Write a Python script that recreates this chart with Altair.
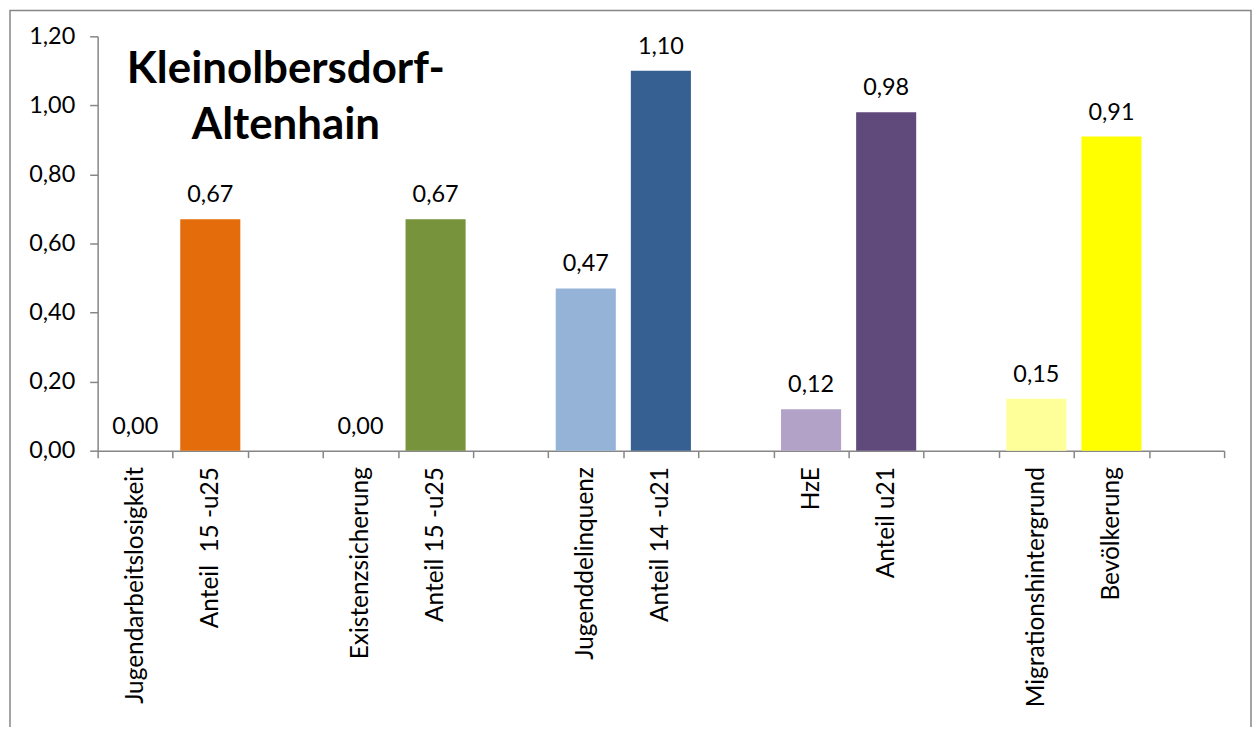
import altair as alt
import pandas as pd
import json

# ---- data ----
categories = ["Jugendarbeitslosigkeit", "Anteil\u00a0 15 -u25",
              "Existenzsicherung", "Anteil 15 -u25",
              "Jugenddelinquenz", "Anteil 14 -u21",
              "HzE", "Anteil u21",
              "Migrationshintergrund", "Bevölkerung"]
values = [0.00, 0.67, 0.00, 0.67, 0.47, 1.10, 0.12, 0.98, 0.15, 0.91]
colors = ["#FAC090", "#E46C0A", "#C3D69B", "#77933C", "#95B3D7",
          "#376092", "#B3A2C7", "#604A7B", "#FFFF99", "#FFFF00"]
title_lines = ["Kleinolbersdorf-", "Altenhain"]
y_ticks = [0, 0.2, 0.4, 0.6, 0.8, 1.0, 1.2]

# two bars per group, one empty slot after each group
slots = [i + i // 2 for i in range(len(categories))]
n_slots = 15
slot_labels = [""] * n_slots
for s, c in zip(slots, categories):
    slot_labels[s] = c

df = pd.DataFrame({"cat": categories, "value": values, "color": colors, "slot": slots})

FONT = "Lato"
GRAY = "#868686"
W, H = 1131, 416

xscale = alt.Scale(domain=[0, n_slots], nice=False, zero=False)
label_expr = json.dumps(slot_labels, ensure_ascii=False) + "[floor(datum.value)]"

base = alt.Chart(df).transform_calculate(
    x0="datum.slot + 0.1",
    x1="datum.slot + 0.9",
    mid="datum.slot + 0.5",
    zero="0",
    lbl="replace(format(datum.value, '.2f'), '.', ',')",
)

bars = base.mark_bar().encode(
    x=alt.X("x0:Q", scale=xscale, title=None,
            axis=alt.Axis(orient="bottom", values=[s + 0.5 for s in range(n_slots)],
                          labelExpr=label_expr, labelAngle=-90, ticks=False, domain=False,
                          grid=False, labelFontSize=24.5, labelFont=FONT, labelColor="black",
                          labelPadding=16, labelLimit=500)),
    x2="x1:Q",
    y=alt.Y("value:Q", scale=alt.Scale(domain=[0, 1.2], nice=False), title=None,
            axis=alt.Axis(values=y_ticks, labelExpr="replace(format(datum.value, '.2f'), '.', ',')",
                          grid=False, domainColor=GRAY, tickColor=GRAY, domainWidth=1.5,
                          tickWidth=1.5, tickSize=8, labelFontSize=23.5, labelFont=FONT,
                          labelColor="black", labelPadding=15)),
    y2="zero:Q",
    color=alt.Color("color:N", scale=None),
)

texts = base.mark_text(baseline="alphabetic", dy=-17, fontSize=23.5, font=FONT, color="black").encode(
    x=alt.X("mid:Q", scale=xscale, title=None,
            axis=alt.Axis(orient="bottom", values=list(range(n_slots + 1)), labels=False,
                          grid=False, domainColor=GRAY, tickColor=GRAY, domainWidth=1.5,
                          tickWidth=1.5, tickSize=7)),
    y=alt.Y("value:Q"),
    text="lbl:N",
)

title = alt.Chart(pd.DataFrame({"t": [0]})).mark_text(
    text=title_lines, font=FONT, fontSize=44, fontWeight="bold", align="center",
    baseline="alphabetic", lineHeight=56, color="black"
).encode(x=alt.value(189), y=alt.value(47))

frame = alt.Chart(pd.DataFrame({"t": [0]})).mark_rect(
    fillOpacity=0, stroke=GRAY, strokeWidth=1.5
).encode(x=alt.value(-88), x2=alt.value(1158), y=alt.value(-26), y2=alt.value(740))

chart = alt.layer(frame, bars, texts, title).resolve_axis(x="independent").properties(
    width=W, height=H,
    autosize=alt.AutoSizeParams(type="none"),
    padding={"left": 90, "top": 27, "right": 28, "bottom": 276},
    background="white",
).configure_view(strokeWidth=0)

chart.save("out.html", embed_options={"renderer": "svg", "actions": False})
